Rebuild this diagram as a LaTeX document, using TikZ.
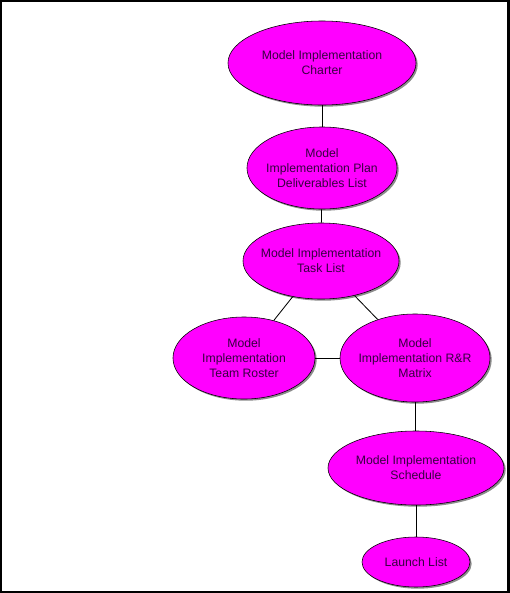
\documentclass[tikz,border=0pt]{standalone}
\usepackage{xcolor}
\usepackage{tikz}
\usepackage{fontspec}
\usetikzlibrary{shapes.geometric,shadows}
\setmainfont{Liberation Sans}
\newcommand{\mitiny}{\fontsize{8.7pt}{10.7pt}\selectfont}
\definecolor{mitext}{RGB}{55,0,65}
\definecolor{mifill}{RGB}{255,0,255}

\begin{document}
\begin{tikzpicture}[x=0.025cm,y=-0.025cm,
    deliv/.style={ellipse, draw=black, fill=mifill, inner sep=-6pt,
        align=center, text=mitext, font=\mitiny,
        drop shadow={shadow xshift=1.2pt, shadow yshift=-1.2pt, fill=black!45, opacity=1}},
    link/.style={draw=black, line width=0.6pt}]
                \useasboundingbox (0,0) rectangle (509,593);
                \draw[line width=1.5pt] (0.5,0.5) rectangle (508.5,592.5);

                % Top-level
                \node[deliv, minimum width=4.7cm, minimum height=2.1cm] (charter) at (322,63) {Model Implementation\\Charter};
                \node[deliv, minimum width=3.75cm, minimum height=2.05cm] (plan) at (322,168) {Model\\Implementation Plan\\Deliverables List};
                \node[deliv, minimum width=3.9cm, minimum height=1.9cm] (tasks) at (321,261) {Model Implementation\\Task List};

                % Mid-level
                \node[deliv, minimum width=3.55cm, minimum height=2.05cm] (roster) at (244,358) {Model\\Implementation\\Team Roster};
                \node[deliv, minimum width=3.75cm, minimum height=2.2cm] (matrix) at (415,358) {Model\\Implementation R\&R\\Matrix};

                % Low-level
                \node[deliv, minimum width=4.4cm, minimum height=1.85cm] (schedule) at (416,468) {Model Implementation\\Schedule};
                \node[deliv, minimum width=2.7cm, minimum height=1.25cm] (launch) at (416,562) {Launch List};

                % Links
                \draw[link] (charter) -- (plan);
                \draw[link] (plan) -- (tasks);
                \draw[link] (tasks) -- (roster);
                \draw[link] (tasks) -- (matrix);
                \draw[link] (roster) -- (matrix);
                \draw[link] (matrix.south) -- (matrix.south |- schedule.north);
                \draw[link] (schedule) -- (launch);
            \end{tikzpicture}
\end{document}
